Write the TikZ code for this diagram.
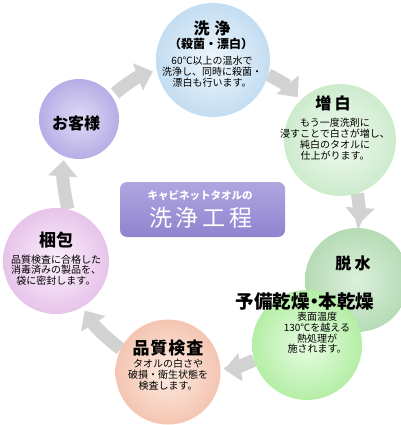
\documentclass[tikz,border=0pt]{standalone}
\usepackage{fontspec}
\newfontfamily\jp{Noto Sans CJK JP}
\newfontfamily\jpp{Noto Sans CJK JP}[RawFeature={+palt}]
\usetikzlibrary{arrows.meta}
\pgfdeclarelayer{back}
\pgfsetlayers{back,main}
\definecolor{c1in}{HTML}{EEF6FC}\definecolor{c1out}{HTML}{C4DDF1}
\definecolor{c2in}{HTML}{F1FBF1}\definecolor{c2out}{HTML}{CDEBCD}
\definecolor{c3in}{HTML}{DCF0DC}\definecolor{c3out}{HTML}{B5DBB5}
\definecolor{c4in}{HTML}{E8FCE2}\definecolor{c4out}{HTML}{B4EEA6}
\definecolor{c5in}{HTML}{FDEBE2}\definecolor{c5out}{HTML}{F4C5B1}
\definecolor{c6in}{HTML}{FBEFFB}\definecolor{c6out}{HTML}{E7C4EA}
\definecolor{c7in}{HTML}{E0DBF7}\definecolor{c7out}{HTML}{B6AEE5}
\definecolor{bantop}{HTML}{AFA6E0}\definecolor{banbot}{HTML}{8F84CF}
\definecolor{arrowgray}{HTML}{D2D2D2}
\begin{document}
\begin{tikzpicture}[x=1pt,y=-1pt,
  ball/.style={circle, inner sep=0pt, minimum size=#1},
  ttl/.style={font=\jp\bfseries\fontsize{16}{18}\selectfont, inner sep=0pt},
  sub/.style={font=\jp\bfseries\fontsize{12}{14}\selectfont, inner sep=0pt},
  body/.style={font=\jp\fontsize{10}{10.8}\selectfont, align=center, inner sep=0pt},
  flow/.style={draw=arrowgray, line width=13pt, -{Triangle[width=28pt,length=16pt]},
    shorten >=4pt}
]
\useasboundingbox (0,0) rectangle (400,425);
% circles
\node[ball=114pt, inner color=c1in, outer color=c1out] (senjo) at (213,60) {};
\node[ball=112pt, inner color=c2in, outer color=c2out] (zohaku) at (340,140) {};
\node[ball=104pt, inner color=c3in, outer color=c3out] (dassui) at (357,280) {};
\node[ball=110pt, inner color=c4in, outer color=c4out] (kanso) at (307,345) {};
\node[ball=105pt, inner color=c5in, outer color=c5out] (hinshitsu) at (168,372) {};
\node[ball=106pt, inner color=c6in, outer color=c6out] (konpo) at (56,261) {};
\node[ball=80pt, inner color=c7in, outer color=c7out] (okyaku) at (79,119) {};
% banner
\node[rounded corners=7pt, minimum width=165pt, minimum height=55pt,
  top color=bantop, bottom color=banbot] (banner) at (202.5,209.5) {};
\node[font=\jp\bfseries\fontsize{10.5}{12}\selectfont, text=white, inner sep=0pt]
  (bant1) at (200,195) {キャビネットタオルの};
\node[font=\jp\fontsize{23}{26}\selectfont, text=white, inner sep=0pt]
  (bant2) at (201,218) {洗\hspace{4pt}浄\hspace{4pt}工\hspace{4pt}程};
% arrows
\begin{pgfonlayer}{back}
\draw[flow, shorten <=4pt] (okyaku.35) to[bend left=10] (senjo.190);
\draw[flow] (senjo.-15) to[bend left=12] (zohaku.135);
\draw[flow] (zohaku.-72) to[bend left=6] (dassui.88);
\draw[flow] (kanso.196) to[bend left=8] (hinshitsu.2);
\draw[flow] (hinshitsu.154) to[bend left=10] (konpo.-60);
\draw[flow] (konpo.77) to[bend left=8] (okyaku.-112);
\end{pgfonlayer}
% texts
\node[ttl] (t1) at (212,28) {洗\hspace{0.3em}浄};
\node[sub] (s1) at (211,44) {（殺菌・漂白）};
\node[body] (b1) at (212,72) {60℃以上の温水で\\洗浄し、同時に殺菌・\\漂白も行います。};
\node[ttl] (t2) at (333,103) {増\hspace{0.2em}白};
\node[body] (b2) at (335,139) {もう一度洗剤に\\浸すことで白さが増し、\\純白のタオルに\\仕上がります。};
\node[ttl] (t3) at (353,263) {脱\hspace{0.2em}水};
\node[ttl, font=\jpp\bfseries\fontsize{18.5}{20}\selectfont] (t4) at (305,302) {予備乾燥・本乾燥};
\node[body] (b4) at (317,333) {表面温度\\130℃を越える\\熱処理が\\施されます。};
\node[ttl, font=\jp\bfseries\fontsize{17}{20}\selectfont] (t5) at (168,348) {品\hspace{1pt}質\hspace{1pt}検\hspace{1pt}査};
\node[body] (b5) at (168,375) {タオルの白さや\\破損・衛生状態を\\検査します。};
\node[ttl, font=\jp\bfseries\fontsize{17}{20}\selectfont] (t6) at (56,240) {梱包};
\node[body] (b6) at (56,270) {品質検査に合格した\\消毒済みの製品を、\\袋に密封します。};
\node[ttl] (t7) at (76,123) {お客様};
\end{tikzpicture}
\end{document}
